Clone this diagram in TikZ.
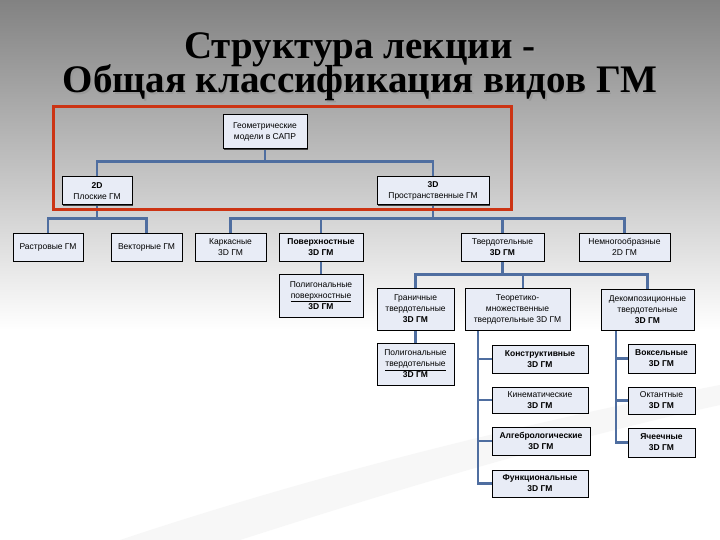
\documentclass[tikz,border=0pt]{standalone}
\usepackage{fontspec}
\setmainfont{Liberation Serif}
\setsansfont{Liberation Sans}
\usetikzlibrary{shadows}
\definecolor{boxfill}{RGB}{232,236,246}
\definecolor{conncol}{RGB}{79,110,160}
\definecolor{framecol}{RGB}{204,52,20}
\definecolor{bgtop}{RGB}{130,130,130}
\definecolor{bgmid}{RGB}{210,210,210}
\pgfdeclarelayer{bglayer}
\pgfdeclarelayer{connlayer}
\pgfsetlayers{bglayer,connlayer,main}
\begin{document}
\begin{tikzpicture}[x=1pt,y=-1pt,
  box/.style={draw=black, line width=1pt, fill=boxfill, inner sep=1pt, align=center,
    font=\sffamily\fontsize{8.5}{11}\selectfont,
    drop shadow={shadow xshift=1pt, shadow yshift=-1pt, fill=black!75, opacity=1}},
  conn/.style={draw=conncol, line width=2.4pt},
  ttl/.style={anchor=base, font=\bfseries\fontsize{39}{39}\selectfont, inner sep=0pt}
]
% background
\begin{pgfonlayer}{bglayer}
\fill[white] (0,0) rectangle (720,540);
\shade[top color=bgtop, middle color=bgmid, bottom color=white] (0,0) rectangle (720,330);
\fill[black!3] (120,540) .. controls (330,470) and (540,420) .. (720,385) -- (720,405) .. controls (560,440) and (380,495) .. (240,540) -- cycle;
\end{pgfonlayer}
\useasboundingbox (0,0) rectangle (720,540);

% title
\node[ttl, text=black!40] at (361.5,60.5) {Структура лекции -};
\node[ttl, text=black!40] at (361.5,94.5) {Общая классификация видов ГМ};
\node[ttl] (t1) at (360,59) {Структура лекции -};
\node[ttl] (t2) at (360,93) {Общая классификация видов ГМ};

% red frame
\draw[framecol, line width=3pt] (53,107) rectangle (511,210);

% nodes
\node[box, minimum width=84, minimum height=34] (geom) at (265,132) {Геометрические\\модели в САПР};
\node[box, minimum width=70, minimum height=28] (d2) at (97,191) {\textbf{2D}\\Плоские ГМ};
\node[box, minimum width=112, minimum height=28] (d3) at (433,191) {\textbf{3D}\\Пространственные ГМ};

\node[box, minimum width=70, minimum height=28] (rast) at (48,247) {Растровые ГМ};
\node[box, minimum width=71, minimum height=28] (vect) at (146.5,247) {Векторные ГМ};
\node[box, minimum width=71, minimum height=28] (kark) at (230.5,247) {Каркасные\\3D ГМ};
\node[box, minimum width=84, minimum height=28] (pov) at (321,247) {\textbf{Поверхностные}\\\textbf{3D ГМ}};
\node[box, minimum width=83, minimum height=28] (tverd) at (502.5,247) {Твердотельные\\\textbf{3D ГМ}};
\node[box, minimum width=91, minimum height=28] (nemn) at (624.5,247) {Немногообразные\\2D ГМ};

\node[box, minimum width=84, minimum height=43] (polpov) at (321,295.5) {Полигональные\\\underline{поверхностные}\\\textbf{3D ГМ}};

\node[box, minimum width=77, minimum height=42] (gran) at (415.5,309) {Граничные\\твердотельные\\\textbf{3D ГМ}};
\node[box, minimum width=105, minimum height=42] (teor) at (517.5,309) {Теоретико-\\множественные\\твердотельные 3D ГМ};
\node[box, minimum width=93, minimum height=41] (dekomp) at (647.5,309.5) {Декомпозиционные\\твердотельные\\\textbf{3D ГМ}};

\node[box, minimum width=77, minimum height=42] (poltv) at (415.5,364) {Полигональные\\\underline{твердотельные}\\\textbf{3D ГМ}};

\node[box, minimum width=96, minimum height=28] (konstr) at (540,359) {\textbf{Конструктивные}\\\textbf{3D ГМ}};
\node[box, minimum width=96, minimum height=26] (kinem) at (540,400) {Кинематические\\\textbf{3D ГМ}};
\node[box, minimum width=98, minimum height=28] (algeb) at (541,441) {\textbf{Алгебрологические}\\\textbf{3D ГМ}};
\node[box, minimum width=96, minimum height=27] (funk) at (540,483.5) {\textbf{Функциональные}\\\textbf{3D ГМ}};

\node[box, minimum width=67, minimum height=29] (voks) at (661.5,358.5) {\textbf{Воксельные}\\\textbf{3D ГМ}};
\node[box, minimum width=67, minimum height=27] (okt) at (661.5,400.5) {Октантные\\\textbf{3D ГМ}};
\node[box, minimum width=67, minimum height=29] (yach) at (661.5,442.5) {\textbf{Ячеечные}\\\textbf{3D ГМ}};

\coordinate (tv) at ([xshift=-39.5pt]teor.south);
\coordinate (dv) at ([xshift=-31.5pt]dekomp.south);
\coordinate (tn) at ([xshift=5.5pt]teor.north);

% connectors (behind boxes)
\begin{pgfonlayer}{connlayer}
\draw[conn] (geom.south) -- ++(0,13);
\draw[conn] (d2.north) -- ++(0,-15) -| (d3.north);
\draw[conn] (d2.south) -- ++(0,14);
\draw[conn] (rast.north) -- ++(0,-14) -| (vect.north);
\draw[conn] (d3.south) -- ++(0,14);
\draw[conn] (kark.north) -- ++(0,-14) -| (nemn.north);
\draw[conn] (pov.north) -- ++(0,-14);
\draw[conn] (tverd.north) -- ++(0,-14);
\draw[conn] (pov.south) -- (polpov.north);
\draw[conn] (tverd.south) -- ++(0,14);
\draw[conn] (gran.north) -- ++(0,-13) -| (dekomp.north);
\draw[conn] (tn) -- ++(0,-13);
\draw[conn] (gran.south) -- (poltv.north);
\draw[conn] (tv) |- (konstr.west);
\draw[conn] (tv) |- (kinem.west);
\draw[conn] (tv) |- (algeb.west);
\draw[conn] (tv) |- (funk.west);
\draw[conn] (dv) |- (voks.west);
\draw[conn] (dv) |- (okt.west);
\draw[conn] (dv) |- (yach.west);
\end{pgfonlayer}
\end{tikzpicture}
\end{document}
